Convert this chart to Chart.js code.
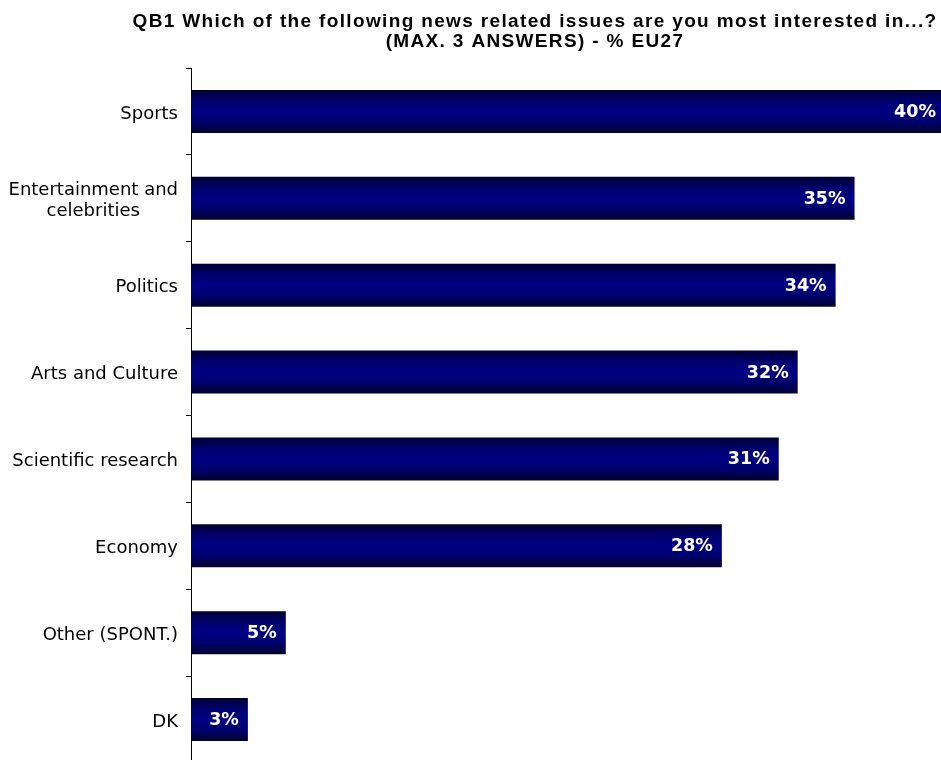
<!DOCTYPE html>
<html>
<head>
<meta charset="utf-8">
<script src="https://cdn.jsdelivr.net/npm/chart.js@4.4.1/dist/chart.umd.min.js"></script>
<style>
  html, body { margin: 0; padding: 0; background: #ffffff; overflow: hidden; }
  #wrap { width: 941px; height: 760px; overflow: hidden; position: relative; }
  canvas { display: block; }
</style>
</head>
<body>
<div id="wrap"><canvas id="c" width="941" height="766"></canvas></div>
<script>
const titleLines = [
  "QB1 Which of the following news related issues are you most interested in...?",
  "(MAX. 3 ANSWERS) - % EU27"
];
const categories = [
  ["Sports"],
  ["Entertainment and", "celebrities"],
  ["Politics"],
  ["Arts and Culture"],
  ["Scientific research"],
  ["Economy"],
  ["Other (SPONT.)"],
  ["DK"]
];
const values = [40, 35, 34, 32, 31, 28, 5, 3];
const valueLabels = ["40%", "35%", "34%", "32%", "31%", "28%", "5%", "3%"];

const TITLE_FONT = "bold 19px 'Liberation Sans', Arial, sans-serif";
const LABEL_FONT = "18px 'DejaVu Sans', Verdana, sans-serif";
const VALUE_FONT = "bold 17.5px 'DejaVu Sans', Verdana, sans-serif";
const BAR_PCT = 0.495;

const titlePlugin = {
  id: 'titlePlugin',
  afterDraw(chart) {
    const ctx = chart.ctx;
    ctx.save();
    ctx.fillStyle = '#000000';
    ctx.font = TITLE_FONT;
    ctx.letterSpacing = '1.35px';
    ctx.textAlign = 'center';
    ctx.textBaseline = 'alphabetic';
    ctx.fillText(titleLines[0], 535, 27);
    ctx.fillText(titleLines[1], 535, 47);
    ctx.restore();
  }
};

function barGradient(c) {
  const chart = c.chart;
  const y = chart.scales && chart.scales.y;
  if (!y || !chart.chartArea || c.dataIndex === undefined) return '#000080';
  const center = y.getPixelForValue(c.dataIndex);
  const h = (y.bottom - y.top) / categories.length * BAR_PCT;
  const g = chart.ctx.createLinearGradient(0, center - h / 2, 0, center + h / 2);
  g.addColorStop(0, '#000030');
  g.addColorStop(0.25, '#00006c');
  g.addColorStop(0.5, '#000084');
  g.addColorStop(0.75, '#00006c');
  g.addColorStop(1, '#00002c');
  return g;
}

const labelPlugin = {
  id: 'labelPlugin',
  afterDatasetsDraw(chart) {
    const ctx = chart.ctx;
    const area = chart.chartArea;
    const meta = chart.getDatasetMeta(0);
    const yScale = chart.scales.y;
    ctx.save();
    ctx.font = VALUE_FONT;
    ctx.fillStyle = '#ffffff';
    ctx.textAlign = 'right';
    ctx.textBaseline = 'middle';
    meta.data.forEach((el, i) => {
      const x = Math.min(el.x - 9, area.right - 5);
      ctx.fillText(valueLabels[i], x, el.y + 1);
    });
    ctx.font = LABEL_FONT;
    ctx.fillStyle = '#000000';
    ctx.textAlign = 'center';
    ctx.textBaseline = 'middle';
    const rightEdge = area.left - 13;
    const lh = 21.6;
    categories.forEach((lines, i) => {
      const cy = yScale.getPixelForValue(i) + 2.5;
      const w = Math.max(...lines.map(l => ctx.measureText(l).width));
      const cx = rightEdge - w / 2;
      const startY = cy - (lines.length - 1) * lh / 2;
      lines.forEach((l, j) => ctx.fillText(l, cx, startY + j * lh));
    });
    ctx.restore();
  }
};

new Chart(document.getElementById('c'), {
  type: 'bar',
  data: {
    labels: categories,
    datasets: [{
      data: values,
      backgroundColor: barGradient,
      borderWidth: 0,
      barPercentage: BAR_PCT,
      categoryPercentage: 1.0,
      clip: 0
    }]
  },
  options: {
    indexAxis: 'y',
    responsive: false,
    animation: false,
    devicePixelRatio: 1,
    layout: { padding: { top: 68, bottom: 3, left: 0, right: 0 } },
    plugins: {
      legend: { display: false },
      title: { display: false },
      tooltip: { enabled: false }
    },
    scales: {
      x: {
        display: false,
        min: 0,
        max: 39.56
      },
      y: {
        afterFit(scale) { scale.width = 191; },
        border: { display: true, color: '#000000', width: 1 },
        grid: {
          offset: true,
          drawOnChartArea: false,
          drawTicks: true,
          tickLength: 5,
          color: '#000000',
          lineWidth: 1
        },
        ticks: { display: false }
      }
    }
  },
  plugins: [labelPlugin, titlePlugin]
});
</script>
</body>
</html>
